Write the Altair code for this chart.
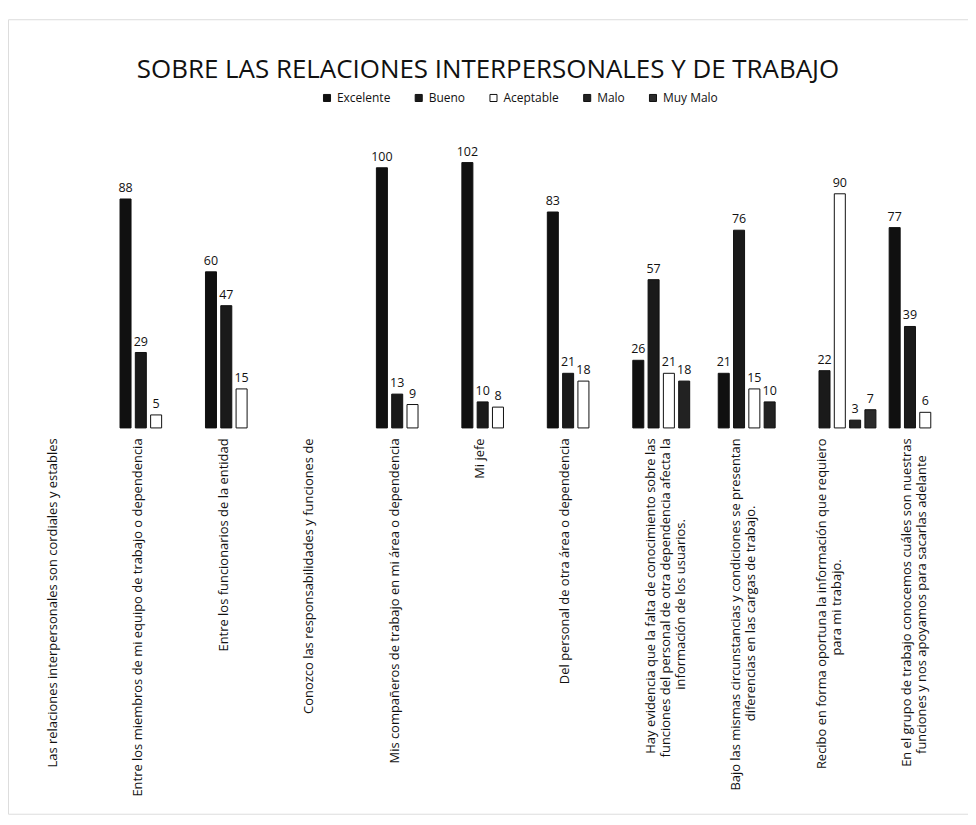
import altair as alt
import pandas as pd

categories = [
    "Las relaciones interpersonales son cordiales y estables",
    "Entre los miembros de mi equipo de trabajo o dependencia",
    "Entre los funcionarios de la entidad",
    "Conozco las responsabilidades y funciones de",
    "Mis compañeros de trabajo en mi área o dependencia",
    "Mi jefe",
    "Del personal de otra área o dependencia",
    "Hay evidencia que la falta de conocimiento sobre las\nfunciones del personal de otra dependencia afecta la\ninformación de los usuarios.",
    "Bajo las mismas circunstancias y condiciones se presentan\ndiferencias en las cargas de trabajo.",
    "Recibo en forma oportuna la información que requiero\npara mi trabajo.",
    "En el grupo de trabajo conocemos cuáles son nuestras\nfunciones y nos apoyamos para sacarlas adelante",
]
series = ["Excelente", "Bueno", "Aceptable", "Malo", "Muy Malo"]

excelente = [None, 88, 60, None, 100, 102, 83, 26, 21, None, 77]
bueno = [None, 29, 47, None, 13, 10, 21, 57, 76, 22, 39]
aceptable = [None, 5, 15, None, 9, 8, 18, 21, 15, 90, 6]
malo = [None, None, None, None, None, None, None, 18, 10, 3, None]
muy_malo = [None, None, None, None, None, None, None, None, None, 7, None]

colors = ["#101010", "#1a1a1a", "#ffffff", "#222222", "#2b2b2b"]

rows = []
for name, vals in zip(series, [excelente, bueno, aceptable, malo, muy_malo]):
    for cat, v in zip(categories, vals):
        if v is not None:
            rows.append({"categoria": cat, "serie": name, "valor": v})
df = pd.DataFrame(rows)

FONT = "Open Sans"
NB = "\u00a0"
ZW = "\u200b"

# multi-line labels, later lines centred under the first one (as in the original)
S = "split(datum.label, '\\n')"
L0 = f"length({S}[0])"
label_expr = (
    f"length({S}) == 1 ? datum.label : "
    f"length({S}) == 2 ? [{S}[0], pad({S}[1], {L0}, '{NB}') + '{ZW}'] : "
    f"[{S}[0], pad({S}[1], {L0}, '{NB}') + '{ZW}', pad({S}[2], {L0}, '{NB}') + '{ZW}']"
)

x_enc = alt.X(
    "categoria:N",
    sort=categories,
    scale=alt.Scale(domain=categories, range=[20, 963], paddingInner=0.155, paddingOuter=0.0775),
    axis=alt.Axis(
        title=None,
        orient="bottom",
        offset=-387,
        domain=False,
        ticks=False,
        labelAngle=-90,
        labelPadding=10,
        labelOffset=-18,
        labelFontSize=13,
        labelFont=FONT,
        labelColor="#111111",
        labelLimit=600,
        labelLineHeight=15,
        labelExpr=label_expr,
    ),
)
xoff_enc = alt.XOffset("serie:N", sort=series, scale=alt.Scale(domain=series, paddingInner=0.28))
y_enc = alt.Y("valor:Q", scale=alt.Scale(domain=[-148.3, 157.1], nice=False, zero=False), axis=None)

bars = alt.Chart(df).mark_bar(stroke="#111111", strokeWidth=1).encode(
    x=x_enc,
    xOffset=xoff_enc,
    y=y_enc,
    y2=alt.datum(0),
    color=alt.Color(
        "serie:N",
        sort=series,
        scale=alt.Scale(domain=series, range=colors),
        legend=alt.Legend(
            title=None,
            orient="none",
            legendX=314,
            legendY=73,
            direction="horizontal",
            symbolType="square",
            symbolSize=50,
            symbolStrokeColor="#111111",
            symbolStrokeWidth=1,
            labelFontSize=12,
            labelFont=FONT,
            labelColor="#111111",
            columnPadding=22,
        ),
    ),
)

labels = alt.Chart(df).mark_text(
    baseline="bottom", dy=-4, fontSize=12.5, font=FONT, color="#111111"
).encode(
    x=x_enc,
    xOffset=xoff_enc,
    y=y_enc,
    text=alt.Text("valor:Q"),
)

chart = (
    alt.layer(bars, labels)
    .properties(
        width=963,
        height=797,
        padding={"left": 0, "top": 10, "right": 0, "bottom": 0},
        title=alt.TitleParams(
            "SOBRE LAS RELACIONES INTERPERSONALES Y DE TRABAJO",
            anchor="middle",
            offset=-64,
            fontSize=26,
            font=FONT,
            fontWeight="normal",
            color="#111111",
        ),
    )
    .configure_view(stroke="#111111", strokeWidth=1.5)
    .configure(background="white")
)

chart.save("out.html", embed_options={"renderer": "svg", "actions": False})
